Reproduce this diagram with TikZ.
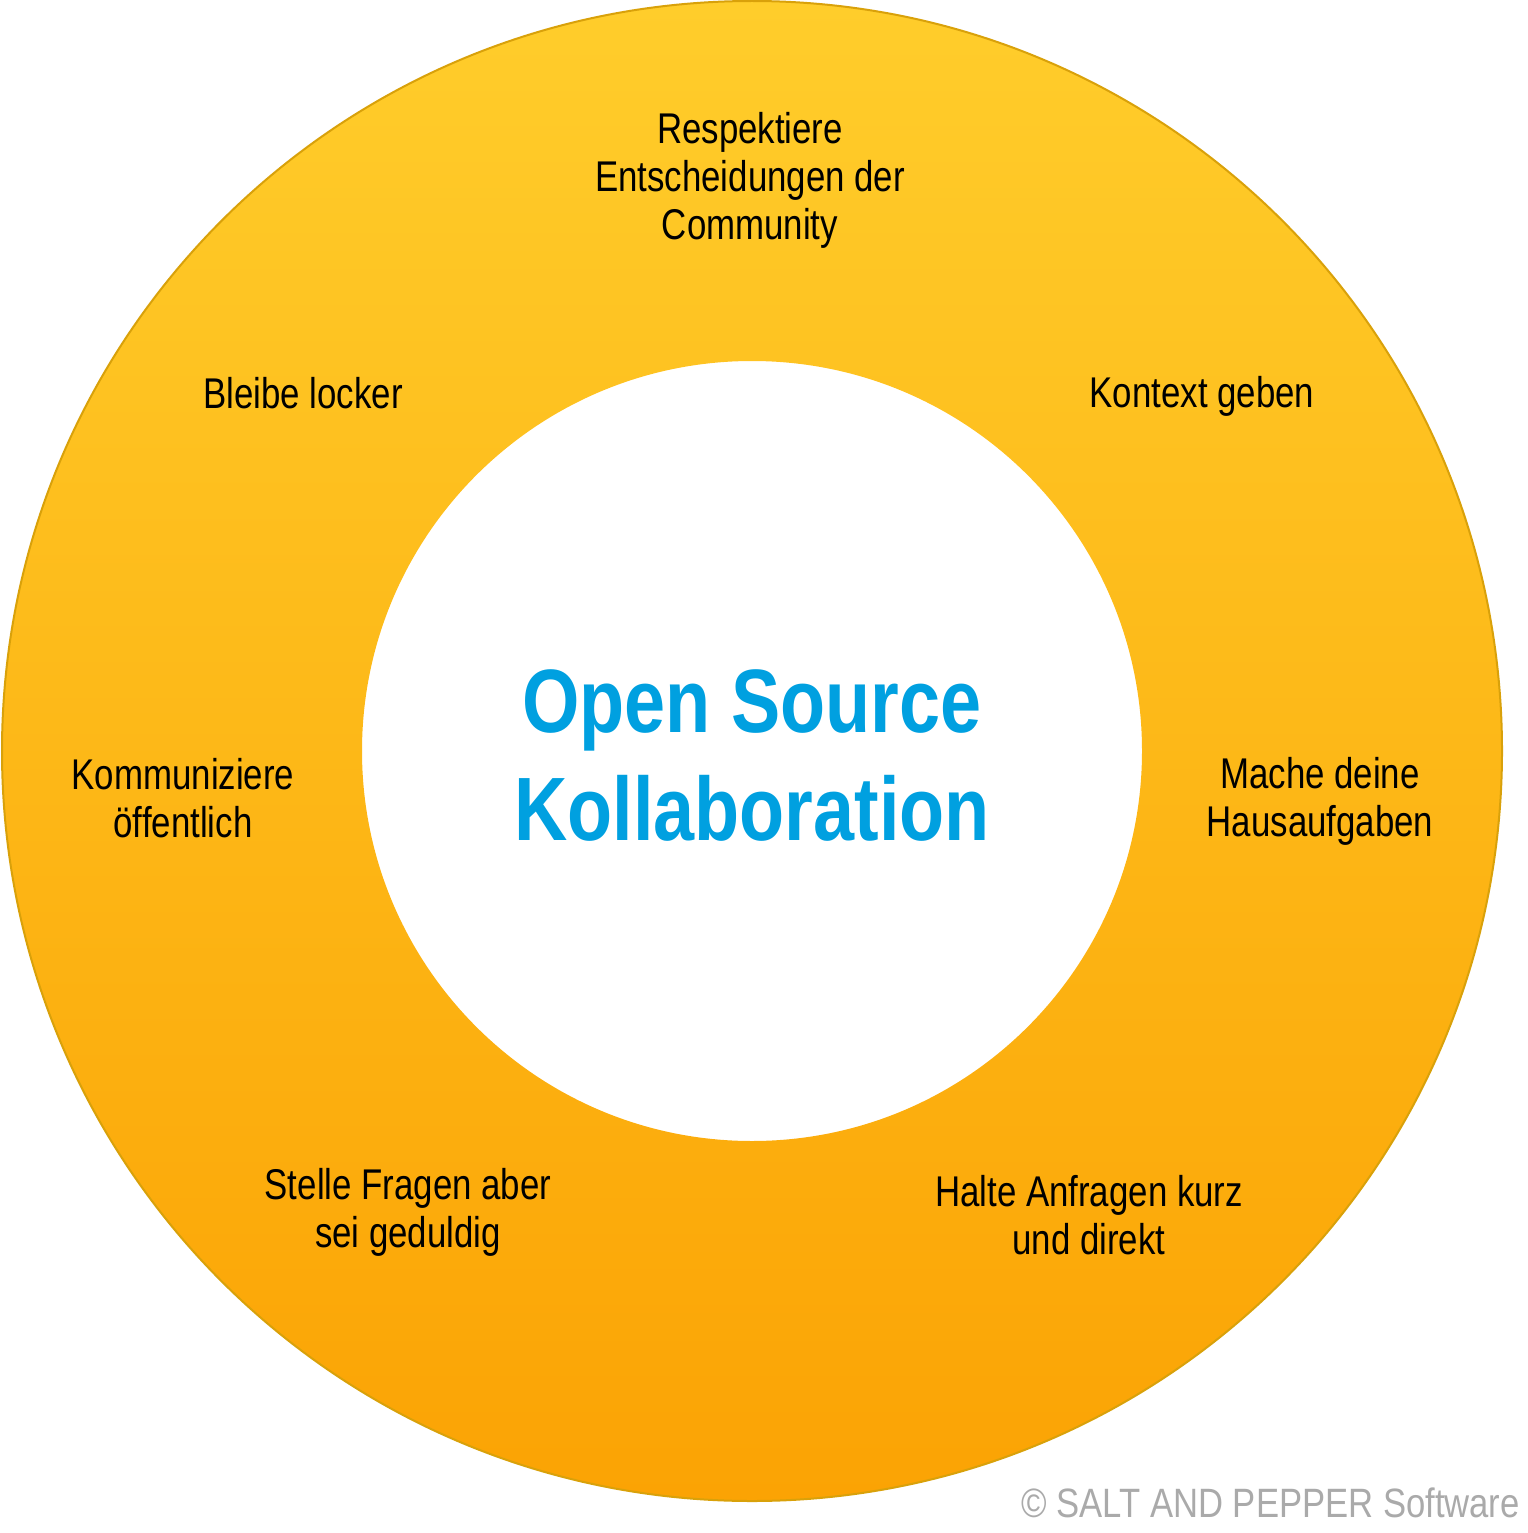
\documentclass[tikz,border=0pt]{standalone}
\usepackage{fontspec}
\setmainfont{Liberation Sans}[FakeStretch=0.81]
\newfontfamily\titlefont{Liberation Sans}[FakeStretch=0.82]
\newfontfamily\copyfont{Liberation Sans}[FakeStretch=0.845]
\definecolor{ringtop}{HTML}{FFCD2B}
\definecolor{ringbottom}{HTML}{FBA304}
\definecolor{ringedge}{HTML}{D9A10A}
\definecolor{titleblue}{HTML}{00A0E0}
\definecolor{copygray}{HTML}{AAAAAA}
\begin{document}
\begin{tikzpicture}[x=1pt,y=-1pt,
  label/.style={align=center,inner sep=0pt,font=\fontsize{43}{48}\selectfont},
  title/.style={align=center,inner sep=0pt,text=titleblue,font=\titlefont\fontsize{90}{108}\selectfont\bfseries}]
  \useasboundingbox (0,0) rectangle (1527,1533);
  \coordinate (c) at (752,751);
  % ring with vertical gradient
  \shade[even odd rule,top color=ringtop,bottom color=ringbottom]
    (c) circle[radius=750] (c) circle[radius=390];
  \draw[ringedge,line width=2pt] (c) circle[radius=750];
  % centre title
  \node[title] (t) at (752,756) {Open Source\\Kollaboration};
  % guidelines around the ring
  \node[label] (n1) at (750,180) {Respektiere\\Entscheidungen der\\Community};
  \node[label] (n2) at (1202,396) {Kontext geben};
  \node[label] (n3) at (1320,801) {Mache deine\\Hausaufgaben};
  \node[label] (n4) at (1089,1215) {Halte Anfragen kurz\\und direkt};
  \node[label] (n5) at (408,1212) {Stelle Fragen aber\\sei geduldig};
  \node[label] (n6) at (183,798) {Kommuniziere\\öffentlich};
  \node[label] (n7) at (303,393) {Bleibe locker};
  % copyright
  \node[anchor=base east,inner sep=0pt,text=copygray,font=\copyfont\fontsize{41}{41}\selectfont] (cr) at (1520,1517) {© SALT AND PEPPER Software};
\end{tikzpicture}
\end{document}
